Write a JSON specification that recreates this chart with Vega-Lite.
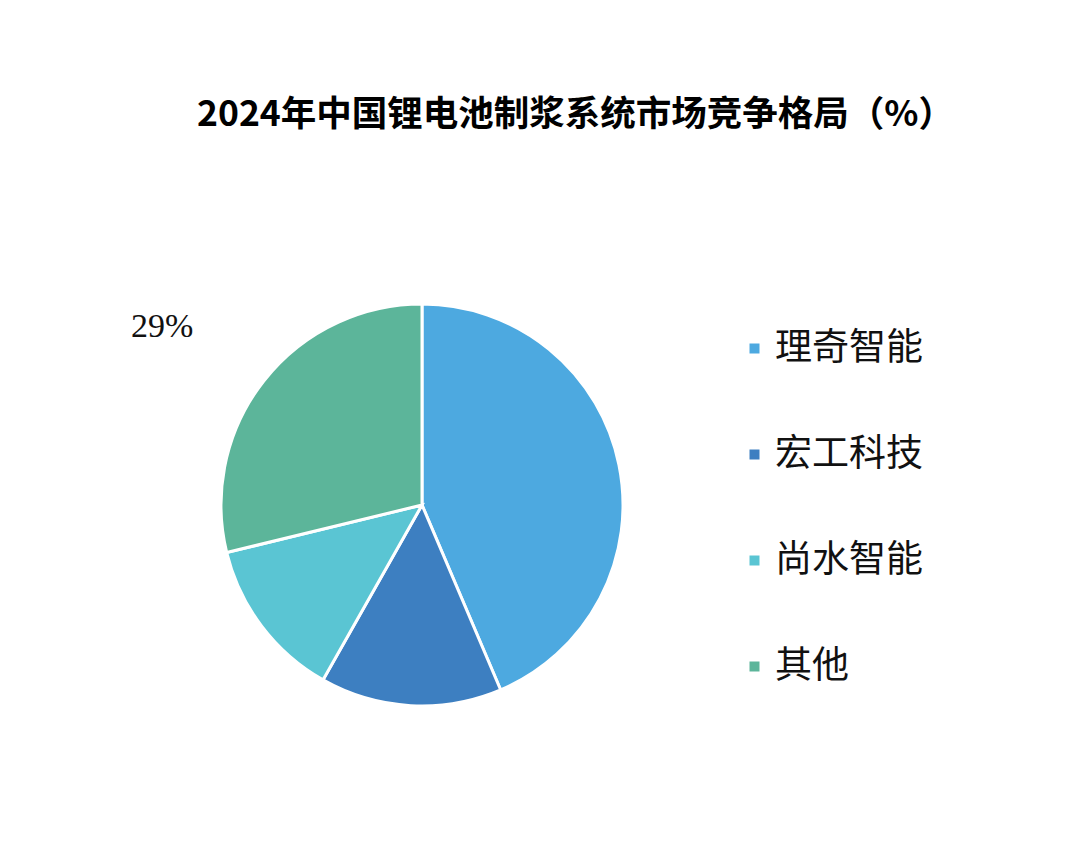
{
  "$schema": "https://vega.github.io/schema/vega-lite/v6.json",
  "width": 650,
  "height": 566,
  "autosize": "none",
  "padding": {"left": 97, "top": 222, "right": 329, "bottom": 66},
  "background": "white",
  "title": {
    "text": "2024年中国锂电池制浆系统市场竞争格局（%）",
    "anchor": "start",
    "dx": 100,
    "offset": 89,
    "font": "Noto Sans CJK SC",
    "fontSize": 35.5,
    "fontWeight": "bold",
    "color": "#000000"
  },
  "data": {
    "values": [
      {"company": "理奇智能", "share": 43.6, "rank": 1, "label": ""},
      {"company": "宏工科技", "share": 14.6, "rank": 2, "label": ""},
      {"company": "尚水智能", "share": 13.0, "rank": 3, "label": ""},
      {"company": "其他", "share": 28.8, "rank": 4, "label": "29%"}
    ]
  },
  "encoding": {
    "theta": {"field": "share", "type": "quantitative", "stack": true},
    "order": {"field": "rank", "type": "quantitative", "sort": "ascending"}
  },
  "layer": [
    {
      "mark": {"type": "arc", "outerRadius": 201, "stroke": "white", "strokeWidth": 3},
      "encoding": {
        "color": {
          "field": "company",
          "type": "nominal",
          "sort": ["理奇智能", "宏工科技", "尚水智能", "其他"],
          "scale": {
            "domain": ["理奇智能", "宏工科技", "尚水智能", "其他"],
            "range": ["#4DA9E0", "#3D7FC1", "#5AC5D3", "#5CB59A"]
          },
          "legend": {
            "title": null,
            "orient": "none",
            "legendX": 639,
            "legendY": 108,
            "padding": 0,
            "symbolType": "square",
            "symbolSize": 100,
            "symbolStrokeWidth": 0,
            "labelFont": "Noto Sans CJK SC",
            "labelFontSize": 37,
            "labelColor": "#111111",
            "labelOffset": 2,
            "rowPadding": 68,
            "labelLimit": 300
          }
        }
      }
    },
    {
      "mark": {
        "type": "text",
        "radius": 310,
        "dx": -16,
        "dy": 14,
        "font": "Liberation Serif",
        "fontSize": 34,
        "color": "#111111",
        "align": "center",
        "baseline": "middle"
      },
      "encoding": {
        "detail": {"field": "company", "type": "nominal"},
        "text": {"field": "label", "type": "nominal"}
      }
    }
  ]
}
